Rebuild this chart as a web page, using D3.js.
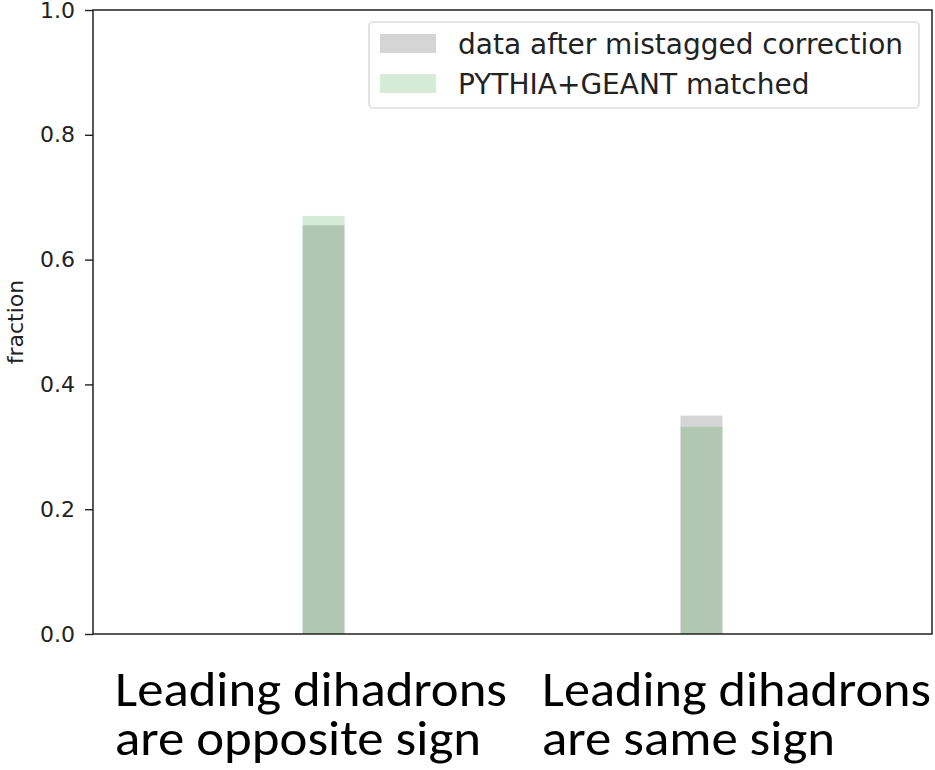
<!DOCTYPE html>
<html>
<head>
<meta charset="utf-8">
<script src="https://cdn.jsdelivr.net/npm/d3@7"></script>
<style>
  html, body { margin: 0; padding: 0; background: #fff; }
  svg { display: block; }
</style>
</head>
<body>
<svg id="chart" width="935" height="770"></svg>
<script>
// ---- data ----
const categories = ["Leading dihadrons are opposite sign", "Leading dihadrons are same sign"];
const categoryLines = [["Leading dihadrons", "are opposite sign"], ["Leading dihadrons", "are same sign"]];
const categoryPos = [0, 1];
const dataValues = [0.655, 0.350];      // data after mistagged correction
const mcValues = [0.670, 0.332];        // PYTHIA+GEANT matched
const seriesNames = ["data after mistagged correction", "PYTHIA+GEANT matched"];
const yTicks = [0.0, 0.2, 0.4, 0.6, 0.8, 1.0];

// ---- layout ----
const svg = d3.select("#chart");
const pLeft = 93, pRight = 932, pTop = 10, pBottom = 634;
const x = d3.scaleLinear().domain([-0.61, 1.61]).range([pLeft, pRight]);
const y = d3.scaleLinear().domain([0, 1]).range([pBottom, pTop]);
const barW = 0.111;

// bars
const barsG = svg.append("g");
barsG.selectAll("rect.data").data(dataValues).enter().append("rect")
  .attr("class", "data")
  .attr("x", (d, i) => x(categoryPos[i] - barW / 2))
  .attr("width", (d, i) => x(categoryPos[i] + barW / 2) - x(categoryPos[i] - barW / 2))
  .attr("y", d => y(d))
  .attr("height", d => y(0) - y(d))
  .attr("fill", "#808080").attr("fill-opacity", 0.33);
barsG.selectAll("rect.mc").data(mcValues).enter().append("rect")
  .attr("class", "mc")
  .attr("x", (d, i) => x(categoryPos[i] - barW / 2))
  .attr("width", (d, i) => x(categoryPos[i] + barW / 2) - x(categoryPos[i] - barW / 2))
  .attr("y", d => y(d))
  .attr("height", d => y(0) - y(d))
  .attr("fill", "#008000").attr("fill-opacity", 0.16);

// y axis
const yAxis = d3.axisLeft(y).tickValues(yTicks).tickFormat(d3.format(".1f")).tickSize(8).tickPadding(10);
const yg = svg.append("g").attr("transform", `translate(${pLeft},0)`).call(yAxis);
yg.select(".domain").remove();
yg.selectAll(".tick line").attr("stroke", "#222").attr("stroke-width", 1.4);
yg.selectAll(".tick text").attr("font-family", "DejaVu Sans").attr("font-size", 22).attr("fill", "#222");

// frame
svg.append("rect").attr("x", pLeft).attr("y", pTop).attr("width", pRight - pLeft).attr("height", pBottom - pTop)
  .attr("fill", "none").attr("stroke", "#222").attr("stroke-width", 1.5);

// y label
svg.append("text").attr("transform", `translate(23,${(pTop + pBottom) / 2}) rotate(-90)`)
  .attr("text-anchor", "middle").attr("font-family", "DejaVu Sans").attr("font-size", 22).attr("fill", "#222")
  .text("fraction");

// legend
const lg = svg.append("g");
lg.append("rect").attr("x", 369).attr("y", 22).attr("width", 550).attr("height", 86).attr("rx", 4)
  .attr("fill", "#fff").attr("fill-opacity", 0.8).attr("stroke", "#d0d0d0").attr("stroke-width", 1.2);
const legendFills = [["#808080", 0.33], ["#008000", 0.16]];
seriesNames.forEach((name, i) => {
  const cy = 43.5 + i * 40;
  lg.append("rect").attr("x", 380).attr("y", cy - 9.5).attr("width", 56).attr("height", 19)
    .attr("fill", legendFills[i][0]).attr("fill-opacity", legendFills[i][1]);
  lg.append("text").attr("x", 458).attr("y", cy).attr("dy", "0.36em")
    .attr("font-family", "DejaVu Sans").attr("font-size", 28).attr("fill", "#222").text(name);
});

// category labels below (one text per category, two lines as tspans)
const lineWidths = [[392, 366], [389, 293]];
const labelX = [115, 542];
categoryLines.forEach((lines, i) => {
  const t = svg.append("text").attr("x", labelX[i]).attr("y", 706)
    .attr("font-family", "Carlito, 'Open Sans', sans-serif").attr("font-size", 50).attr("fill", "#000");
  lines.forEach((s, j) => {
    t.append("tspan").attr("x", labelX[i]).attr("y", 706 + j * 49)
      .attr("textLength", lineWidths[i][j]).attr("lengthAdjust", "spacingAndGlyphs")
      .text(s);
  });
});
</script>
</body>
</html>
